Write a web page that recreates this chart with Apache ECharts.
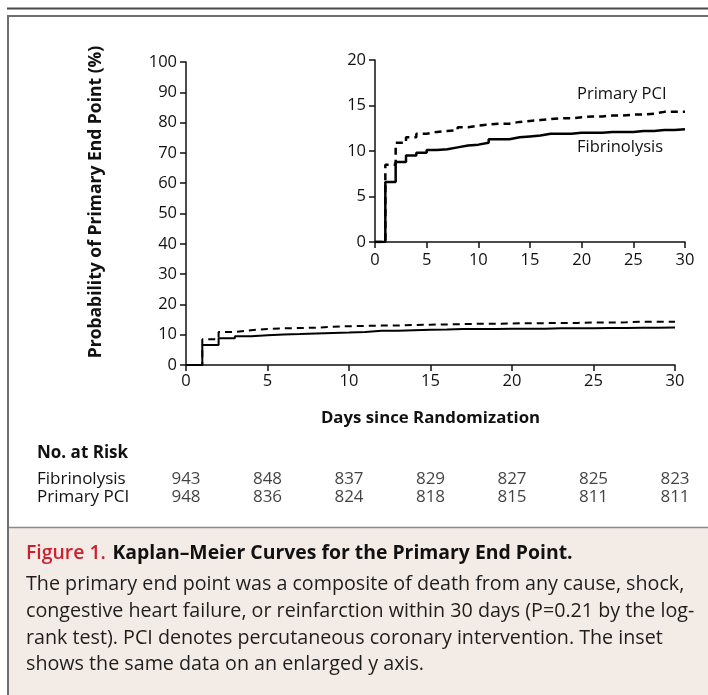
<!DOCTYPE html>
<html>
<head>
<meta charset="utf-8">
<script src="https://cdn.jsdelivr.net/npm/echarts@6/dist/echarts.min.js"></script>
<style>
  html, body { margin: 0; padding: 0; background: #fff; }
  #chart { width: 708px; height: 695px; }
</style>
</head>
<body>
<div id="chart"></div>
<script>
// ------------------------------------------------------------
// Data
// ------------------------------------------------------------

const days = [0, 1, 2, 3, 4, 5, 6, 7, 8, 9, 10, 11, 12, 13, 14, 15,
  16, 17, 18, 19, 20, 21, 22, 23, 24, 25, 26, 27, 28, 29, 30];

const fibrinolysis = [0, 6.6, 8.8, 9.5, 9.8, 10.1, 10.2, 10.4, 10.6, 10.7, 10.9,
  11.3, 11.3, 11.5, 11.6, 11.7, 11.9, 11.9, 11.9, 12.0, 12.0, 12.0, 12.1, 12.1,
  12.1, 12.2, 12.2, 12.3, 12.3, 12.4, 12.4];

const primaryPci = [0, 8.5, 10.9, 11.5, 11.9, 12.1, 12.2, 12.3, 12.6, 12.8, 12.9,
  13.0, 13.0, 13.2, 13.3, 13.4, 13.5, 13.6, 13.6, 13.7, 13.8, 13.8, 13.9, 13.9,
  14.0, 14.0, 14.1, 14.3, 14.3, 14.3, 14.3];

const riskDays = [0, 5, 10, 15, 20, 25, 30];
const riskGroups = ["Fibrinolysis", "Primary PCI"];
const riskFibrinolysis = [943, 848, 837, 829, 827, 825, 823];
const riskPci = [948, 836, 824, 818, 815, 811, 811];

const yAxisTitle = "Probability of Primary End Point (%)";
const captionTitleRed = "Figure 1.";
const captionTitle = "Kaplan\u2013Meier Curves for the Primary End Point.";
const captionLines = [
  "The primary end point was a composite of death from any cause, shock,",
  "congestive heart failure, or reinfarction within 30 days (P=0.21 by the log-",
  "rank test). PCI denotes percutaneous coronary intervention. The inset",
  "shows the same data on an enlarged y axis.",
];

// ------------------------------------------------------------
// Helpers
// ------------------------------------------------------------

const FONT = "'Open Sans', 'Noto Sans', sans-serif";
const INK = "#111";

const pairs = (ys) => days.map((d, i) => [d, ys[i]]);

function valueAxis(gridIndex, max, interval, labelMargin, extra) {
  return Object.assign({
    type: "value",
    gridIndex: gridIndex,
    min: 0,
    max: max,
    interval: interval,
    axisLine: { show: true, onZero: false, lineStyle: { color: INK, width: 1.5 } },
    axisTick: { show: true, length: 6, lineStyle: { color: INK, width: 1.5 } },
    axisLabel: { fontFamily: FONT, fontSize: 16.5, color: INK, margin: labelMargin },
    splitLine: { show: false },
  }, extra || {});
}

function curve(name, xIdx, ys, dashed, width) {
  return {
    name: name,
    type: "line",
    xAxisIndex: xIdx,
    yAxisIndex: xIdx,
    step: "end",
    showSymbol: false,
    silent: true,
    data: pairs(ys),
    lineStyle: {
      color: "#000",
      width: width,
      type: dashed ? [7, 5] : "solid",
    },
    z: dashed ? 3 : 4,
  };
}

function riskSeries(counts, row) {
  return {
    type: "scatter",
    xAxisIndex: 2,
    yAxisIndex: 2,
    symbolSize: 0,
    silent: true,
    data: riskDays.map((d, i) => [d, row, counts[i]]),
    label: {
      show: true,
      position: "inside",
      fontFamily: FONT,
      fontSize: 17,
      color: INK,
      formatter: (p) => String(p.value[2]),
    },
  };
}

// ------------------------------------------------------------
// Chart
// ------------------------------------------------------------

const chart = echarts.init(document.getElementById("chart"), null, { renderer: "canvas" });

const frame = [
  // beige caption panel
  { type: "rect", z: -10, shape: { x: 8, y: 527, width: 700, height: 168 }, style: { fill: "#f3ebe6" } },
  { type: "line", z: -5, shape: { x1: 8, y1: 527.5, x2: 708, y2: 527.5 }, style: { stroke: "#8a8a8a", lineWidth: 1.5 } },
  // rules
  { type: "rect", z: -5, shape: { x: 7, y: 7.5, width: 701, height: 2 }, style: { fill: "#4a4a4a" } },
  { type: "line", z: -5, shape: { x1: 7, y1: 16, x2: 708, y2: 16 }, style: { stroke: "#6e6e6e", lineWidth: 2 } },
  { type: "line", z: -5, shape: { x1: 8, y1: 16, x2: 8, y2: 695 }, style: { stroke: "#6e6e6e", lineWidth: 2 } },
  // y axis title (sits a little above the axis middle in the original)
  {
    type: "text", x: 96, y: 202, rotation: Math.PI / 2,
    style: {
      text: yAxisTitle, font: "bold 17.5px " + FONT, fill: INK,
      align: "center", verticalAlign: "middle",
    },
  },
  // inset labels
  { type: "text", left: 577, top: 86, style: { text: "Primary PCI", font: "16.5px " + FONT, fill: INK } },
  { type: "text", left: 577, top: 139, style: { text: "Fibrinolysis", font: "16.5px " + FONT, fill: INK } },
  // risk table heading
  { type: "text", left: 37, top: 445, style: { text: "No. at Risk", font: "bold 17px " + FONT, fill: INK } },
  // caption
  {
    type: "text", left: 26, top: 544,
    style: {
      text: "{r|" + captionTitleRed + "}  {b|" + captionTitle + "}",
      rich: {
        r: { font: "600 19.4px " + FONT, fill: "#cc1f2f" },
        b: { font: "bold 19.4px " + FONT, fill: "#111" },
      },
    },
  },
  {
    type: "text", left: 26, top: 571,
    style: {
      text: captionLines.join("\n"),
      font: "19.7px " + FONT,
      lineHeight: 26.8,
      fill: "#1e1e1e",
    },
  },
];

const option = {
  backgroundColor: "#fff",
  animation: false,
  grid: [
    { left: 186, right: 33, top: 62, height: 303 },
    { left: 375, right: 23, top: 60, height: 182 },
    { left: 186, right: 33, top: 470, height: 36 },
  ],
  xAxis: [
    valueAxis(0, 30, 5, 8, {
      name: "Days since Randomization",
      nameLocation: "middle",
      nameGap: 45,
      nameTextStyle: { fontFamily: FONT, fontSize: 16.8, fontWeight: "bold", color: INK },
    }),
    valueAxis(1, 30, 5, 10),
    { type: "value", gridIndex: 2, min: 0, max: 30, show: false },
  ],
  yAxis: [
    valueAxis(0, 100, 10, 9),
    valueAxis(1, 20, 5, 9),
    {
      type: "category",
      gridIndex: 2,
      data: riskGroups,
      inverse: true,
      axisLine: { show: false },
      axisTick: { show: false },
      axisLabel: { interval: 0, fontFamily: FONT, fontSize: 17, color: INK, align: "left", margin: 149 },
    },
  ],
  series: [
    curve("Primary PCI", 0, primaryPci, true, 2),
    curve("Fibrinolysis", 0, fibrinolysis, false, 2),
    curve("Primary PCI", 1, primaryPci, true, 2.5),
    curve("Fibrinolysis", 1, fibrinolysis, false, 2.5),
    riskSeries(riskFibrinolysis, 0),
    riskSeries(riskPci, 1),
  ],
  graphic: frame,
};

chart.setOption(option);
</script>
</body>
</html>
